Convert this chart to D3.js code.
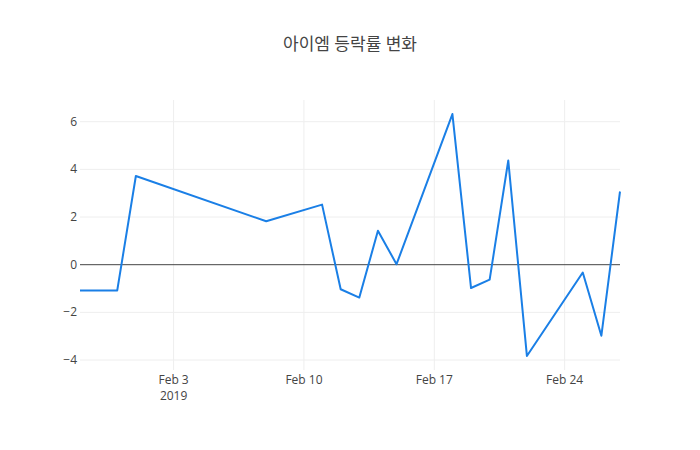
<!DOCTYPE html>
<html>
<head>
<meta charset="utf-8">
<script src="https://cdn.jsdelivr.net/npm/d3@7"></script>
<style>
  body { margin: 0; background: #fff; }
  text { font-family: "Open Sans", "Noto Sans CJK KR", sans-serif; }
</style>
</head>
<body>
<div id="chart"></div>
<script>
// data
var dates = ["2019-01-29", "2019-01-31", "2019-02-01", "2019-02-08", "2019-02-11",
             "2019-02-12", "2019-02-13", "2019-02-14", "2019-02-15", "2019-02-18",
             "2019-02-19", "2019-02-20", "2019-02-21", "2019-02-22", "2019-02-25",
             "2019-02-26", "2019-02-27"];
var changes = [-1.1, -1.1, 3.7, 1.8, 2.5,
               -1.05, -1.4, 1.4, 0.0, 6.3,
               -1.0, -0.65, 4.35, -3.85, -0.35,
               -3.0, 3.05];
var yTicks = [-4, -2, 0, 2, 4, 6];
var xTicks = ["2019-02-03", "2019-02-10", "2019-02-17", "2019-02-24"];
var title = "아이엠 등락률 변화";

var svgWidth = 700, svgHeight = 450;
var margin = {top: 100, right: 80, bottom: 80, left: 80};
var chartWidth = svgWidth - margin.left - margin.right;
var chartHeight = svgHeight - margin.top - margin.bottom;

var parse = d3.timeParse("%Y-%m-%d");
var data = dates.map(function(d, i) { return {date: parse(d), value: changes[i]}; });

var xScale = d3.scaleTime()
    .domain(d3.extent(data, d => d.date))
    .range([0, chartWidth]);

var yMin = d3.min(changes), yMax = d3.max(changes);
var pad = (yMax - yMin) * 0.058;
var yScale = d3.scaleLinear()
    .domain([yMin - pad, yMax + pad])
    .range([chartHeight, 0]);

var svg = d3.select("#chart").append("svg")
    .attr("width", svgWidth)
    .attr("height", svgHeight);

var chartGroup = svg.append("g")
    .attr("transform", `translate(${margin.left}, ${margin.top})`);

// grid lines
var xAxis = d3.axisBottom(xScale)
    .tickValues(xTicks.map(parse))
    .tickSize(-chartHeight)
    .tickFormat("");
var xg = chartGroup.append("g")
    .attr("transform", `translate(0, ${chartHeight})`)
    .call(xAxis);
xg.select(".domain").remove();
xg.selectAll("line").attr("stroke", "#eee");

var fmtDay = d3.timeFormat("%b %-d");
xg.selectAll(".tick").each(function(d, i) {
  var t = d3.select(this).append("text")
      .attr("fill", "#444")
      .attr("font-size", "12px")
      .attr("text-anchor", "middle")
      .attr("y", 14);
  t.append("tspan").attr("x", 0).text(fmtDay(d));
  if (i === 0) t.append("tspan").attr("x", 0).attr("dy", 16).text(d.getFullYear());
});

var yAxis = d3.axisLeft(yScale)
    .tickValues(yTicks)
    .tickSize(-chartWidth)
    .tickPadding(3)
    .tickFormat(d => d < 0 ? "\u2212" + Math.abs(d) : d);
var yg = chartGroup.append("g").call(yAxis);
yg.select(".domain").remove();
yg.selectAll("line").attr("stroke", d => d === 0 ? "#444" : "#eee");
yg.selectAll("text").attr("fill", "#444").attr("font-size", "12px");
// put zero line on top of other gridlines
yg.selectAll(".tick").filter(d => d === 0).raise();

var line = d3.line()
    .x(d => xScale(d.date))
    .y(d => yScale(d.value));

chartGroup.append("path")
    .datum(data)
    .attr("fill", "none")
    .attr("stroke", "#1a7fe6")
    .attr("stroke-width", 2)
    .attr("stroke-linejoin", "round")
    .attr("d", line);

svg.append("text")
    .attr("x", svgWidth / 2)
    .attr("y", 50)
    .attr("text-anchor", "middle")
    .attr("fill", "#444")
    .attr("font-size", "17px")
    .text(title);
</script>
</body>
</html>
